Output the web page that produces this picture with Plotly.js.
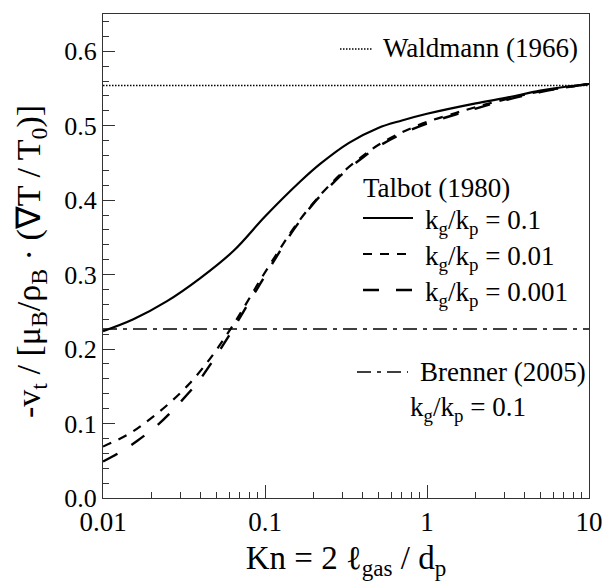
<!DOCTYPE html>
<html>
<head>
<meta charset="utf-8">
<script src="https://cdn.plot.ly/plotly-3.0.1.min.js"></script>
<style>html,body{margin:0;padding:0;background:#fff;}#chart{width:603px;height:588px;}</style>
</head>
<body>
<div id="chart"></div>
<script>
// ---- data ----
const knSolid = [0.01, 0.0154, 0.0247, 0.0397, 0.064, 0.1, 0.165, 0.22, 0.33, 0.5, 0.7, 1, 2, 3, 5, 7, 10];
const vSolid  = [0.224, 0.240, 0.264, 0.295, 0.332, 0.378, 0.425, 0.449, 0.477, 0.497, 0.507, 0.516, 0.530, 0.537, 0.547, 0.552, 0.556];

const knShort = [0.01, 0.0147, 0.0195, 0.0259, 0.034, 0.0432, 0.0513, 0.0634, 0.0751, 0.093, 0.12, 0.15, 0.2, 0.25, 0.3, 0.4, 0.5, 0.7, 1, 1.5, 2, 3, 5, 7, 10];
const vShort  = [0.069, 0.087, 0.106, 0.128, 0.153, 0.180, 0.202, 0.232, 0.258, 0.292, 0.330, 0.362, 0.397, 0.420, 0.437, 0.459, 0.474, 0.491, 0.505, 0.517, 0.525, 0.535, 0.546, 0.551, 0.556];

const knLong = [0.01, 0.0132, 0.0163, 0.0212, 0.0262, 0.0331, 0.0393, 0.0469, 0.0553, 0.064, 0.0735, 0.0889, 0.107, 0.12, 0.15, 0.2, 0.25, 0.3, 0.4, 0.5, 0.7, 1, 1.5, 2, 3, 5, 7, 10];
const vLong  = [0.049, 0.0635, 0.077, 0.096, 0.115, 0.139, 0.158, 0.182, 0.206, 0.228, 0.250, 0.280, 0.309, 0.327, 0.360, 0.396, 0.418, 0.435, 0.457, 0.472, 0.489, 0.503, 0.515, 0.523, 0.534, 0.545, 0.551, 0.556];

const knRange = [0.01, 10];
const waldmann = [0.554, 0.554];
const brenner = [0.227, 0.227];

const xTickVals = [0.01, 0.1, 1, 10];
const xTickText = ['0.01', '0.1', '1', '10'];

const xTitle = 'Kn = 2 ℓ<sub>gas</sub> / d<sub>p</sub>';
const yTitle = '-v<sub>t</sub> / [μ<sub>B</sub>/ρ<sub>B</sub> · (∇T / T<sub>0</sub>)]';

// ---- layout helpers ----
const FONT = 'Liberation Serif, serif';
const L = 103, R = 589, T = 14, B = 498;
const px = x => (x - L) / (R - L);
const py = y => (B - y) / (B - T);

const traces = [
  {x: knRange, y: waldmann, mode: 'lines', line: {color: '#000', width: 1.5, dash: '1.5px,1.5px'}},
  {x: knRange, y: brenner, mode: 'lines', line: {color: '#000', width: 1.6, dash: '14px,6px,4px,6px'}},
  {x: knSolid, y: vSolid, mode: 'lines', line: {color: '#000', width: 2.2, shape: 'spline'}},
  {x: knShort, y: vShort, mode: 'lines', line: {color: '#000', width: 2.2, dash: '9px,8px', shape: 'spline'}},
  {x: knLong, y: vLong, mode: 'lines', line: {color: '#000', width: 2.4, dash: '16px,17px', shape: 'spline'}}
];

function sample(x0, x1, y, dash, width) {
  return {type: 'line', xref: 'paper', yref: 'paper', x0: px(x0), x1: px(x1), y0: py(y), y1: py(y),
          line: {color: '#000', width: width, dash: dash}};
}
function label(x, y, text, anchor) {
  return {xref: 'paper', yref: 'paper', x: px(x), y: py(y), text: text, showarrow: false,
          xanchor: anchor || 'left', yanchor: 'middle', font: {family: FONT, size: 27, color: '#000'}};
}
const kk = 'k<sub>g</sub>/k<sub>p</sub> = ';

const layout = {
  width: 603, height: 588,
  margin: {l: L, r: 603 - R, t: T, b: 588 - B},
  paper_bgcolor: '#fff', plot_bgcolor: '#fff',
  showlegend: false,
  font: {family: FONT, size: 26, color: '#000'},
  xaxis: {
    type: 'log', range: [-2, 1],
    tickvals: xTickVals, ticktext: xTickText,
    ticks: 'inside', ticklen: 13, tickwidth: 1, tickcolor: '#333',
    minor: {ticks: 'inside', ticklen: 6, tickwidth: 1, tickcolor: '#333', dtick: 'D1', showgrid: false},
    showline: true, linecolor: '#333', linewidth: 1, mirror: true,
    showgrid: false, zeroline: false,
    tickfont: {family: FONT, size: 27, color: '#000'},
    title: {text: xTitle, font: {family: FONT, size: 33, color: '#000'}, standoff: 9}
  },
  yaxis: {
    range: [0, 0.65], dtick: 0.1, tick0: 0, tickformat: '.1f',
    ticks: 'inside', ticklen: 12, tickwidth: 1, tickcolor: '#333',
    minor: {ticks: 'inside', ticklen: 6, tickwidth: 1, tickcolor: '#333', dtick: 0.02, showgrid: false},
    showline: true, linecolor: '#333', linewidth: 1, mirror: true,
    showgrid: false, zeroline: false,
    tickfont: {family: FONT, size: 26, color: '#000'}
  },
  shapes: [
    sample(340, 372, 49, '1.5px,1.5px', 1.5),
    sample(363, 413, 218, 'solid', 2.2),
    sample(363, 413, 254, '9px,8px', 2.2),
    sample(363, 413, 290, '16px,17px', 2.4),
    sample(357, 408, 372, '14px,6px,4px,6px', 1.6)
  ],
  annotations: [
    {xref: 'paper', yref: 'paper', x: px(31), y: py(262), text: yTitle, textangle: -90, showarrow: false,
     xanchor: 'center', yanchor: 'middle', font: {family: FONT, size: 34, color: '#000'}},
    label(381, 48, 'Waldmann (1966)'),
    label(361, 188, 'Talbot (1980)'),
    label(423, 222, kk + '0.1'),
    label(423, 258, kk + '0.01'),
    label(423, 294, kk + '0.001'),
    label(418, 372, 'Brenner (2005)'),
    label(468, 409, kk + '0.1', 'center')
  ]
};

Plotly.newPlot('chart', traces, layout, {displayModeBar: false, staticPlot: true});
</script>
</body>
</html>
